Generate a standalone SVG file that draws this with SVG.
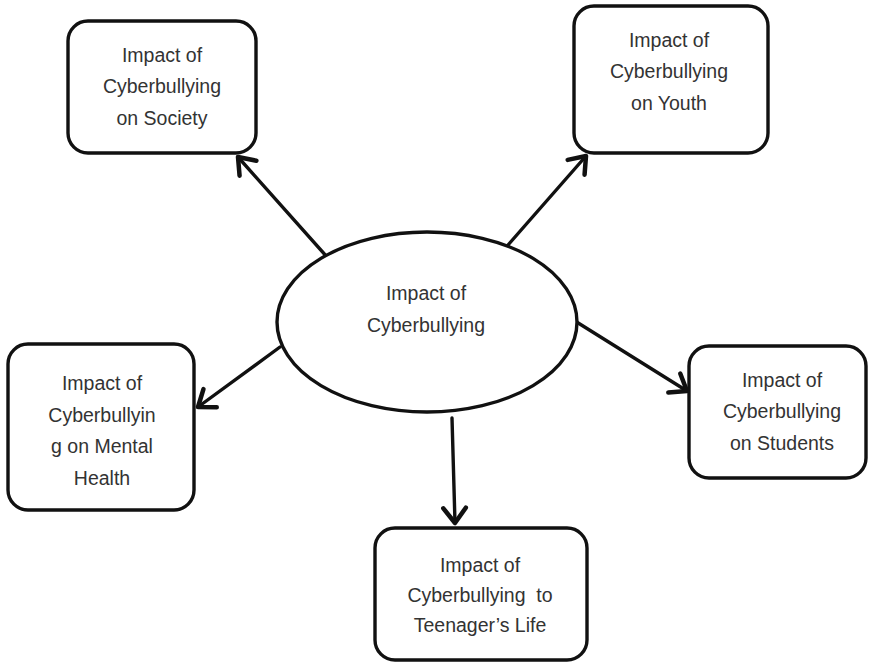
<svg xmlns="http://www.w3.org/2000/svg" width="872" height="668" viewBox="0 0 872 668">
<defs>
<style>
.box{fill:#fff;stroke:#111;stroke-width:3.4}
.t{font-family:"Liberation Sans",Arial,sans-serif;font-size:19.5px;fill:#333;text-anchor:middle}
.c{stroke:#111;stroke-width:3.4;fill:none;stroke-linecap:round}
</style>
<marker id="ah" markerUnits="userSpaceOnUse" markerWidth="30" markerHeight="30" refX="0" refY="0" viewBox="-16 -12 20 24" orient="auto">
<path d="M-12,-9 L0,0 L-12,9" fill="none" stroke="#111" stroke-width="3.6" stroke-linecap="round" stroke-linejoin="round"/>
</marker>
</defs>
<rect width="872" height="668" fill="#fff"/>
<g id="connectors">
<line class="c" x1="327" y1="257" x2="238" y2="157" marker-end="url(#ah)"/>
<line class="c" x1="508" y1="245" x2="586" y2="156" marker-end="url(#ah)"/>
<line class="c" x1="280" y1="347" x2="198" y2="407" marker-end="url(#ah)"/>
<line class="c" x1="575" y1="321" x2="687" y2="391" marker-end="url(#ah)"/>
<line class="c" x1="452" y1="418" x2="455" y2="523" marker-end="url(#ah)"/>
</g>
<g id="center">
<ellipse class="box" cx="427" cy="322" rx="150" ry="90"/>
<text class="t" x="426" y="300">Impact of</text>
<text class="t" x="426" y="332">Cyberbullying</text>
</g>
<g id="society">
<rect class="box" x="68" y="21" width="188" height="132" rx="20"/>
<text class="t" x="162" y="62">Impact of</text>
<text class="t" x="162" y="93">Cyberbullying</text>
<text class="t" x="162" y="125">on Society</text>
</g>
<g id="youth">
<rect class="box" x="574" y="6" width="194" height="147" rx="20"/>
<text class="t" x="669" y="47">Impact of</text>
<text class="t" x="669" y="78">Cyberbullying</text>
<text class="t" x="669" y="110">on Youth</text>
</g>
<g id="mental">
<rect class="box" x="8" y="344" width="186" height="166" rx="20"/>
<text class="t" x="102" y="390">Impact of</text>
<text class="t" x="102" y="422">Cyberbullyin</text>
<text class="t" x="102" y="453">g on Mental</text>
<text class="t" x="102" y="485">Health</text>
</g>
<g id="students">
<rect class="box" x="689" y="346" width="177" height="132" rx="20"/>
<text class="t" x="782" y="387">Impact of</text>
<text class="t" x="782" y="418">Cyberbullying</text>
<text class="t" x="782" y="450">on Students</text>
</g>
<g id="teenager">
<rect class="box" x="375" y="528" width="212" height="132" rx="20"/>
<text class="t" x="480" y="572">Impact of</text>
<text class="t" x="480" y="602" xml:space="preserve">Cyberbullying  to</text>
<text class="t" x="480" y="632">Teenager’s Life</text>
</g>
</svg>
